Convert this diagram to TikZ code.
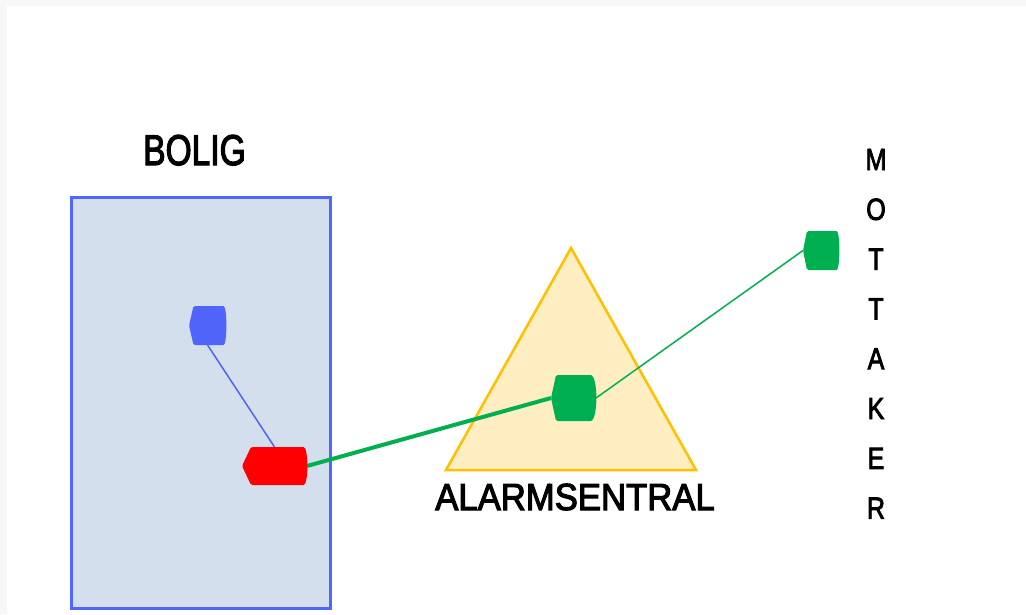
\documentclass[tikz,border=0pt]{standalone}
\usepackage{fontspec}
\setmainfont{Liberation Sans}
\newfontfamily\labfont[FakeBold=3]{Liberation Sans}
\definecolor{bgray}{HTML}{F7F7F7}
\definecolor{boxfill}{HTML}{D4DFEE}
\definecolor{boxline}{HTML}{5066FF}
\definecolor{devblue}{HTML}{5064FA}
\definecolor{devred}{HTML}{FF0000}
\definecolor{devgreen}{HTML}{00B050}
\definecolor{trifill}{HTML}{FFEEC2}
\definecolor{triline}{HTML}{FFC000}
\newcommand{\devshape}[4]{% name, colour, chevron depth, bulge
  \fill[#2, rounded corners=1.5pt] ([xshift=#3]#1.north west) -- ([xshift=-#4]#1.north east)
    .. controls ([xshift=#4/3]#1.north east) and ([xshift=#4/3]#1.south east) .. ([xshift=-#4]#1.south east)
    -- ([xshift=#3]#1.south west) -- (#1.west) -- cycle;}
\begin{document}
\begin{tikzpicture}[x=1pt,y=-1pt,
  dev/.style={minimum width=#1, inner sep=0pt, outer sep=0pt},
  lbl/.style={inner sep=0pt, anchor=base, text=black}]
\useasboundingbox (0,0) rectangle (1026,614);
\fill[bgray] (0,0) rectangle (1026,614);
\fill[white] (7,6) rectangle (1026,614);
% BOLIG box
\draw[boxline, fill=boxfill, line width=3.5pt] (71.5,197.5) rectangle (330.5,608.5);
\node[lbl, font=\labfont\fontsize{43}{43}\selectfont, xscale=0.78] (bolig) at (194.5,165) {BOLIG};
% triangle
\draw[triline, fill=trifill, line width=2.5pt, line join=miter] (571,248) -- (696,470) -- (446,470) -- cycle;
\node[lbl, font=\labfont\fontsize{37.7}{37.7}\selectfont, xscale=0.92] (alarm) at (575,510) {ALARMSENTRAL};
% MOTTAKER
\foreach \ch [count=\i] in {M,O,T,T,A,K,E,R}{
  \node[lbl, font=\labfont\fontsize{30.5}{30.5}\selectfont, xscale=0.82] (m\i) at (876,{170+(\i-1)*49.8}) {\ch};
}
% devices (invisible frames)
\node[dev=37pt, minimum height=39pt] (blue) at (207.5,325.5) {};
\node[dev=65pt, minimum height=38pt] (red) at (274.5,466) {};
\node[dev=45pt, minimum height=46pt] (gmid) at (573.5,398) {};
\node[dev=36pt, minimum height=39pt] (gright) at (821,250.5) {};
% connectors
\draw[devblue, line width=1.5pt] (blue.south) -- (red.north);
\draw[devgreen, line width=4pt] (red.east) -- (gmid.west);
\draw[devgreen, line width=1.5pt] (gmid.east) -- (gright.west);
% device shapes
\devshape{blue}{devblue}{4.5pt}{4pt}
\devshape{red}{devred}{9pt}{5pt}
\devshape{gmid}{devgreen}{5pt}{7pt}
\devshape{gright}{devgreen}{4pt}{4pt}
\end{tikzpicture}
\end{document}
